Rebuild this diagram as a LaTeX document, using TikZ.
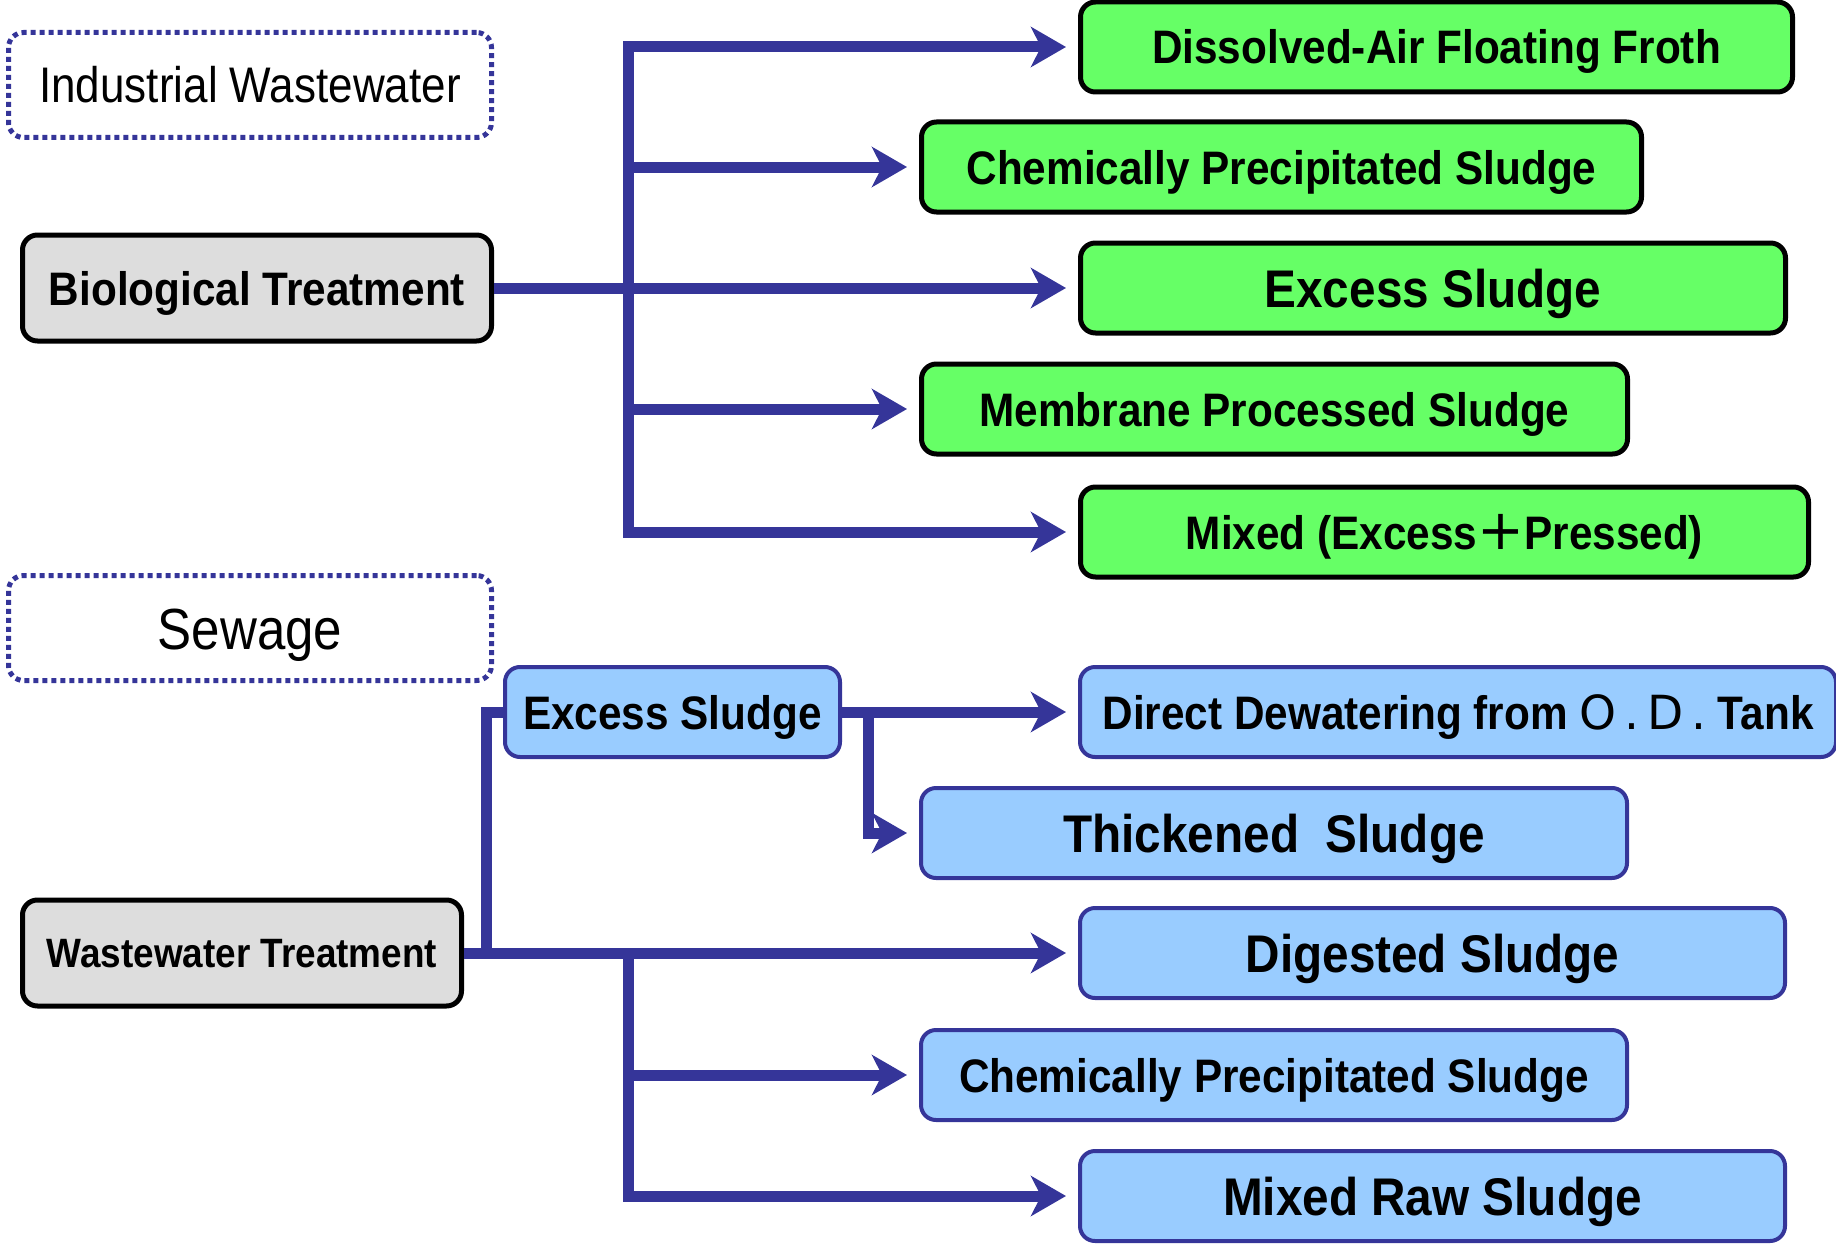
\documentclass[tikz,border=0pt]{standalone}
\usepackage{fontspec}
\setmainfont{Liberation Sans}
\newfontfamily\bxf[FakeStretch=0.9]{Liberation Sans Bold}
\newfontfamily\ttlf[FakeStretch=0.88]{Liberation Sans}
\newfontfamily\odf{DejaVu Sans}
\usepackage{tikz}
\usetikzlibrary{calc,positioning,arrows.meta}
\definecolor{flowblue}{RGB}{53,53,153}
\definecolor{grnfill}{RGB}{102,255,102}
\definecolor{blufill}{RGB}{153,204,255}
\definecolor{gryfill}{RGB}{221,221,221}

\begin{document}
\begin{tikzpicture}[x=1pt,y=-1pt]
\tikzstyle{box}=[rounded corners=15pt, inner sep=0pt, anchor=west, minimum height=90pt, text height=34pt, text depth=0pt, font=\bxf\fontsize{47}{50}\selectfont]
\tikzstyle{grn}=[box, draw=black, line width=5pt, fill=grnfill]
\tikzstyle{blu}=[box, draw=flowblue, line width=4pt, fill=blufill]
\tikzstyle{gry}=[box, draw=black, line width=5pt, fill=gryfill, minimum height=106pt]
\tikzstyle{orig}=[box, draw=flowblue, line width=5pt, dash pattern=on 5pt off 4pt, minimum height=105pt, text height=36pt, font=\ttlf\fontsize{50}{52}\selectfont]
\tikzstyle{big}=[text height=38pt, font=\bxf\fontsize{53}{56}\selectfont]
\tikzstyle{ln}=[draw=flowblue, line width=11pt]
\tikzstyle{arr}=[ln, -{Stealth[length=35pt,width=40pt,inset=10pt]}, shorten >=12pt]

\useasboundingbox (0,0) rectangle (1836,1244);

% sources
\node[orig, minimum width=483pt] (ind) at (6,85) {Industrial Wastewater};
\node[gry, minimum width=469pt] (bio) at (20,288) {Biological Treatment};
\node[orig, minimum width=483pt, text height=42pt, font=\ttlf\fontsize{58}{60}\selectfont] (sew) at (6,628) {Sewage};
\node[gry, minimum width=439pt, text height=29pt, font=\bxf\fontsize{41}{44}\selectfont] (wwt) at (20,953) {Wastewater Treatment};

% industrial sludges
\node[grn, minimum width=712pt] (daf) at (1078,47) {Dissolved-Air Floating Froth};
\node[grn, minimum width=720pt] (chG) at (919,167) {Chemically Precipitated Sludge};
\node[grn, big, minimum width=705pt] (exG) at (1078,288) {Excess Sludge};
\node[grn, minimum width=706pt] (mem) at (919,409) {Membrane Processed Sludge};
\node[grn, minimum width=728pt] (mixG) at (1078,532) {Mixed (Excess{\odf\fontsize{56}{56}\selectfont+}Pressed)};

% sewage sludges
\node[blu, minimum width=335pt] (exB) at (503,712) {Excess Sludge};
\node[blu, minimum width=756pt] (dir) at (1078,712) {Direct Dewatering from {\odf O\,.\,D\,.} Tank};
\node[blu, big, minimum width=706pt] (thk) at (919,833) {Thickened\ \ Sludge};
\node[blu, big, minimum width=705pt] (dig) at (1078,953) {Digested Sludge};
\node[blu, minimum width=706pt] (chB) at (919,1075) {Chemically Precipitated Sludge};
\node[blu, big, minimum width=705pt] (mixR) at (1078,1196) {Mixed Raw Sludge};

\coordinate (tk) at (628,0);
\coordinate (vx) at (486,0);
\coordinate (vx2) at (868,0);

% top tree
\draw[ln, line cap=rect] (tk|-daf.west) -- (tk|-mixG.west);
\foreach \b in {daf,chG,mem,mixG}{\draw[arr] (tk|-\b.west) -- (\b.west);}
\draw[arr] (bio.east) -- (exG.west);

% bottom tree
\draw[ln] (vx|-wwt.east) -- (vx|-exB.west) -- (exB.west);
\draw[arr] (wwt.east) -- (dig.west);
\draw[ln, line cap=rect] (tk|-dig.west) -- (tk|-mixR.west);
\foreach \b in {chB,mixR}{\draw[arr] (tk|-\b.west) -- (\b.west);}
\draw[arr] (exB.east) -- (dir.west);
\draw[arr] (vx2|-exB.east) -- (vx2|-thk.west) -- (thk.west);
\end{tikzpicture}
\end{document}
